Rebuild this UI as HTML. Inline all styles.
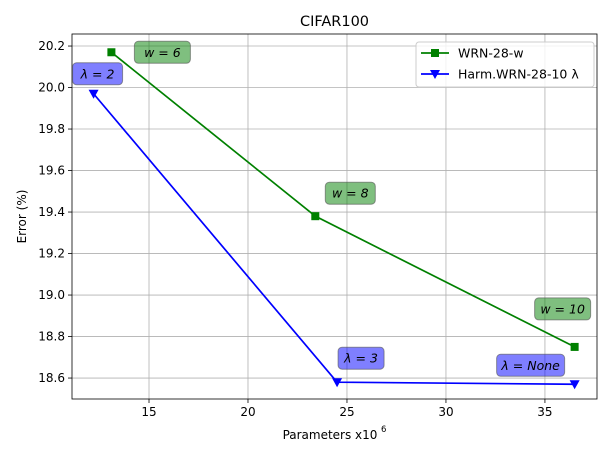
<!DOCTYPE html>
<html><head><meta charset="utf-8"><style>
body{margin:0;background:#fff}
svg{font-family:"DejaVu Sans","Liberation Sans",sans-serif}
</style></head><body>
<svg id="c" width="614" height="460" xmlns="http://www.w3.org/2000/svg"></svg>
<script>
const xTicks=[15,20,25,30,35];
const yTicks=[18.6,18.8,19.0,19.2,19.4,19.6,19.8,20.0,20.2];
const wrnX=[13.1,23.4,36.5];
const wrnY=[20.17,19.38,18.75];
const wrnLabels=["w = 6","w = 8","w = 10"];
const harmX=[12.2,24.5,36.5];
const harmY=[19.97,18.58,18.57];
const harmLabels=["λ = 2","λ = 3","λ = None"];
const L=72,R=597,T=34,B=399;
const X0=11.11,X1=37.63,Y0=18.499,Y1=20.258;
const sx=v=>L+(v-X0)/(X1-X0)*(R-L);
const sy=v=>B-(v-Y0)/(Y1-Y0)*(B-T);
const svg=document.getElementById('c');
const NS='http://www.w3.org/2000/svg';
function mk(t,a,txt){const e=document.createElementNS(NS,t);for(const k in a)e.setAttribute(k,a[k]);if(txt!==undefined)e.textContent=txt;svg.appendChild(e);return e;}
let e;
xTicks.forEach(v=>{
 e=mk('line',{x1:sx(v),x2:sx(v),y1:T,y2:B,stroke:'#b0b0b0','stroke-width':0.8});
 
 e=mk('line',{x1:sx(v),x2:sx(v),y1:B,y2:B+4,stroke:'#000','stroke-width':0.8});
 
 e=mk('text',{x:sx(v),y:B+17,'font-size':12,'text-anchor':'middle'},String(v));
 
});
yTicks.forEach(v=>{
 e=mk('line',{x1:L,x2:R,y1:sy(v),y2:sy(v),stroke:'#b0b0b0','stroke-width':0.8});
 
 e=mk('line',{x1:L-4,x2:L,y1:sy(v),y2:sy(v),stroke:'#000','stroke-width':0.8});
 
 e=mk('text',{x:L-7,y:sy(v)+4,'font-size':12,'text-anchor':'end'},v.toFixed(1));
 
});
e=mk('rect',{x:L,y:T,width:R-L,height:B-T,fill:'none',stroke:'#000','stroke-width':0.8});

function series(xs,ys,col,name,marker){
 e=mk('polyline',{points:xs.map((x,i)=>sx(x)+','+sy(ys[i])).join(' '),fill:'none',stroke:col,'stroke-width':1.7});
 
 xs.forEach((x,i)=>{
  const cx=sx(x),cy=sy(ys[i]);
  if(marker==='s')e=mk('rect',{x:cx-4,y:cy-4,width:8,height:8,fill:col});
  else e=mk('polygon',{points:`${cx-5},${cy-4} ${cx+5},${cy-4} ${cx},${cy+5}`,fill:col});
  
 });
}
series(wrnX,wrnY,'#008000','wrn','s');
series(harmX,harmY,'#0000ff','harm','v');
function ann(x,y,txt,fill,dx,dy,w){
 const cx=sx(x)+dx,cy=sy(y)+dy;
 e=mk('rect',{x:cx-w/2,y:cy-11,width:w,height:22,rx:4,fill:fill,'fill-opacity':0.5,stroke:'#555','stroke-opacity':0.6});
 
 e=mk('text',{x:cx,y:cy+4.5,'font-size':12.5,'text-anchor':'middle','font-style':'italic'},txt);
 
}
const wOff=[[51,0,56],[35,-23,50],[-12,-38,56]];
const hOff=[[4,-20,50],[24,-24,46],[-44,-19,68]];
wrnLabels.forEach((t,i)=>ann(wrnX[i],wrnY[i],t,'#008000',wOff[i][0],wOff[i][1],wOff[i][2]));
harmLabels.forEach((t,i)=>ann(harmX[i],harmY[i],t,'#0000ff',hOff[i][0],hOff[i][1],hOff[i][2]));
e=mk('text',{x:(L+R)/2,y:26,'font-size':14.5,'text-anchor':'middle'},'CIFAR100');

e=mk('text',{x:330,y:439,'font-size':12,'text-anchor':'middle'},'Parameters x10');

e=mk('text',{x:381,y:432,'font-size':8.5},'6');

e=mk('text',{x:0,y:0,'font-size':12,'text-anchor':'middle',transform:`translate(26,${(T+B)/2}) rotate(-90)`},'Error (%)');

e=mk('rect',{x:416,y:42,width:178,height:45,rx:3,fill:'#fff','fill-opacity':0.8,stroke:'#ccc'});

e=mk('line',{x1:421,x2:449,y1:53,y2:53,stroke:'#008000','stroke-width':1.7});

e=mk('rect',{x:431,y:49,width:8,height:8,fill:'#008000'});

e=mk('text',{x:458,y:57.5,'font-size':12.5},'WRN-28-w');

e=mk('line',{x1:421,x2:449,y1:74,y2:74,stroke:'#0000ff','stroke-width':1.7});

e=mk('polygon',{points:'430,70 440,70 435,79',fill:'#0000ff'});

e=mk('text',{x:458,y:78.5,'font-size':12.5},'Harm.WRN-28-10 λ');

</script>
</body></html>
